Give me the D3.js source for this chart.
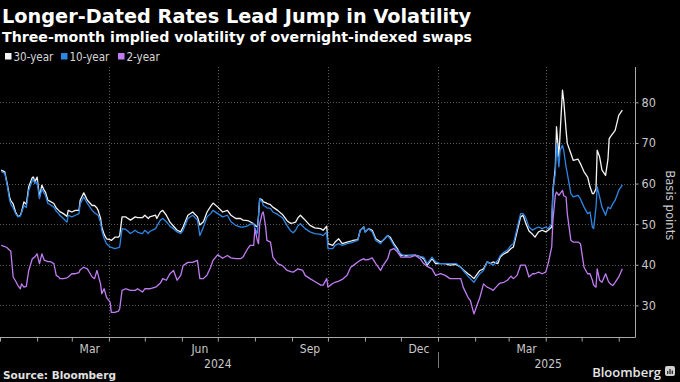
<!DOCTYPE html>
<html><head><meta charset="utf-8">
<script src="https://cdn.jsdelivr.net/npm/d3@7"></script>
<style>
html,body{margin:0;padding:0;background:#000;}
svg{display:block;}
</style></head><body>
<svg id="chart" width="680" height="382"></svg>
<script>
const dates = [
"2024-01-02","2024-01-05","2024-01-07","2024-01-09","2024-01-10","2024-01-12","2024-01-14","2024-01-16","2024-01-18","2024-01-19",
"2024-01-21","2024-01-23","2024-01-25","2024-01-28","2024-01-29","2024-01-30","2024-02-01","2024-02-03","2024-02-05","2024-02-07",
"2024-02-08","2024-02-10","2024-02-12","2024-02-15","2024-02-17","2024-02-19","2024-02-20","2024-02-23","2024-02-26","2024-02-27",
"2024-03-01","2024-03-04","2024-03-07","2024-03-08","2024-03-11","2024-03-14","2024-03-18","2024-03-20","2024-03-22","2024-03-23",
"2024-03-25","2024-03-26","2024-03-28","2024-03-30","2024-04-02","2024-04-03","2024-04-06","2024-04-09","2024-04-10","2024-04-12",
"2024-04-15","2024-04-16","2024-04-19","2024-04-23","2024-04-25","2024-04-29","2024-05-01","2024-05-04","2024-05-05","2024-05-10",
"2024-05-11","2024-05-14","2024-05-16","2024-05-19","2024-05-22","2024-05-25","2024-05-28","2024-05-31","2024-06-02","2024-06-06",
"2024-06-10","2024-06-14","2024-06-16","2024-06-19","2024-06-22","2024-06-25","2024-06-27","2024-07-01","2024-07-05","2024-07-09",
"2024-07-12","2024-07-16","2024-07-20","2024-07-22","2024-07-26","2024-07-28","2024-07-31","2024-08-01","2024-08-03","2024-08-04",
"2024-08-05","2024-08-07","2024-08-08","2024-08-10","2024-08-11","2024-08-14","2024-08-16","2024-08-20","2024-08-24","2024-08-28",
"2024-08-31","2024-09-02","2024-09-04","2024-09-06","2024-09-08","2024-09-10","2024-09-12","2024-09-16","2024-09-20","2024-09-25",
"2024-09-27","2024-09-30","2024-10-01","2024-10-05","2024-10-07","2024-10-10","2024-10-13","2024-10-17","2024-10-20","2024-10-22",
"2024-10-26","2024-10-28","2024-10-31","2024-11-01","2024-11-04","2024-11-07","2024-11-10","2024-11-14","2024-11-16","2024-11-20",
"2024-11-22","2024-11-25","2024-11-28","2024-12-01","2024-12-05","2024-12-09","2024-12-13","2024-12-17","2024-12-20","2024-12-23",
"2024-12-27","2024-12-30","2025-01-03","2025-01-07","2025-01-11","2025-01-16","2025-01-20","2025-01-22","2025-01-26","2025-01-28",
"2025-01-31","2025-02-03","2025-02-05","2025-02-08","2025-02-11","2025-02-14","2025-02-16","2025-02-20","2025-02-22","2025-02-25",
"2025-02-28","2025-03-03","2025-03-05","2025-03-08","2025-03-11","2025-03-13","2025-03-15","2025-03-18","2025-03-21","2025-03-23",
"2025-03-26","2025-03-29","2025-04-01","2025-04-03","2025-04-06","2025-04-07","2025-04-09","2025-04-10","2025-04-12","2025-04-13",
"2025-04-15","2025-04-16","2025-04-18","2025-04-19","2025-04-22","2025-04-24","2025-04-28","2025-04-30","2025-05-03","2025-05-06",
"2025-05-08","2025-05-10","2025-05-11","2025-05-13","2025-05-14","2025-05-16","2025-05-18","2025-05-21","2025-05-23","2025-05-24",
"2025-05-25","2025-05-27","2025-05-29","2025-06-01","2025-06-04"];

const rate30y = [
63.3,62.9,60,56.7,55.8,55,53,51.9,52.2,53,
55.5,54.9,59.2,61.5,61.6,60.4,61.6,56.7,59.6,58.3,
57.9,55.9,55.6,55.1,54,53.4,53.1,52.6,51.9,53.4,
53,53.4,53.4,55.9,57.7,55.9,54.6,54.6,54,53.4,
51.5,49.3,47.5,46.4,46.2,46,46.8,46.8,47.2,51.8,
51.8,51.6,51,51.8,51.6,51.6,52.2,51.4,51.8,52.2,
51.4,53,53.4,52.2,50.5,49.5,48.5,48.1,49.3,52.2,
53,51.8,49.8,50.6,53,54.4,55.2,54.2,53,53.4,
52.2,51.4,51.4,51,50.9,50.6,50.1,49.7,49.3,52,
56.3,56,55.5,55.3,55.1,54.8,54.2,53.4,52.4,50.8,
50.2,50.3,50.5,51.6,52.2,51.6,51,49.7,49.1,48.9,
48.5,49.5,45.2,44.8,45.6,46.4,45.2,45.6,45.8,46,
46.2,48.5,49.3,48.1,48.9,48.5,46.4,45.6,46,47.2,
46.8,45.2,44,42.3,42.3,42.3,42.4,42,41.5,39.9,
41.5,40.3,40.3,40.3,39.9,40.1,39.4,38.8,37.8,37.4,
36.6,37.8,38.6,39,40.7,40.3,40.7,40.3,41.9,42.7,
43.1,44,44.4,48.1,51.8,52.2,50.5,48.3,47.5,46.8,
48.1,48.5,48.1,48.5,49.3,58.3,64,74,66.6,72.3,
83,80.5,73.1,69.9,67.4,65.7,66,64.9,62.9,61.6,
59.2,57.5,57.5,58.7,68.2,66.6,63.3,62,66,71,
71.5,72.3,73.1,76.8,78.1];

const rate10y = [
63,62.5,59.6,56,55,54,52.6,51.8,52,52.8,
54.6,54.1,58.3,60.8,61,60,60.4,56.3,58.7,57.5,
57.1,55.1,54.8,54.2,53.2,52.6,52.2,51.4,50.5,52.2,
51.8,52.2,52.6,55,56.7,55.1,53.4,52.8,52.4,52.2,
50.5,48.5,46.5,45.2,44.4,44.3,44,44.2,44.4,48.9,
48.7,48.5,47.7,48.5,48,47.7,48.5,47.7,48.2,48.9,
49.5,51,51.4,50.6,49.5,48.9,48.1,47.7,48.5,51.4,
52.2,51,47.2,49.3,51.8,52.6,53.4,52.6,51.8,52.2,
50.6,49.7,49.3,49.3,49.6,50,50.1,48.9,47.7,52,
56.3,55.5,54.6,54.3,54,53.9,53,52.4,51.6,49.6,
48.3,47.9,48.5,49.6,50.1,49.5,48.9,48.1,47.7,47.5,
47.2,48.1,44,44,44.8,45.2,44.8,45.2,45.4,45.6,
46,48.5,49.3,48.1,48.9,48.1,46,45.2,46,47.2,
46.4,44.8,43.6,42.7,42,42.4,42.3,42,41.9,40.3,
41.9,40.7,40.3,40.3,40.3,40.3,39.4,38.6,37.2,36.6,
35.7,37,37.8,38.6,40.7,40.3,39.9,41.1,42.3,43.1,
43.6,44.8,45.2,48.9,52.6,52.6,51.8,49.3,48.5,48.9,
49.3,48.9,49.3,48.9,50.1,58.3,62.5,69.9,64.1,68.2,
69.4,68.2,64.1,62.5,57.5,56.7,57.1,56.2,54.2,52.6,
53,49.3,48.9,54.2,59.2,56.7,54.2,52.2,54.2,54,
53.8,55,55.9,58.3,59.7];

const rate2y = [
44.8,44.5,44.2,43.6,43.4,37,36,34.9,34.1,35.3,
34.5,34.7,38.6,41.5,41.7,41.9,42.7,40.3,42.7,41.1,
41,40.8,40.8,40.3,37.4,37,36.6,36.6,36.8,37,
37.8,37.8,38.1,38.8,39.4,39,37,36.6,38.6,37.5,
35.3,32.9,34.1,32,30.8,28.3,28.3,28.6,29.2,33.7,
34.1,34,33.7,33.7,34.1,33.3,34.1,34.1,34.1,34.5,
34.7,35.5,36.6,36.2,37.8,38.6,36.2,37.4,39.8,40.6,
40.6,41.1,36.6,36.6,37.5,39.4,41.1,42.5,41.6,42.3,
41.7,41.5,41.5,41.9,44,44.8,44.8,48.9,46,45.2,
50,52.6,53,49.3,46,45.6,41.9,40.3,39.8,38.6,
38.3,38.2,38.6,39,38.8,38.6,37.4,36.6,35.9,35,
35,36.6,34.5,35.4,35.7,36,36.4,37.4,39.4,39.8,
40.7,41.1,41.5,41.2,41.3,41.7,40.3,38.6,39.8,41.5,
43.6,44,43.2,41.9,41.9,41.9,42.3,41.5,40.3,39.6,
39,37.4,37.8,37.4,36.6,36.6,36.6,34.5,32,31.2,
27.9,30.4,32,35.3,34.5,34.1,33.7,35,35.5,35.7,
36.2,37.2,36.6,37.4,39.9,39.9,39.9,37,37.8,37.8,
38.2,37.8,38.2,40.3,44.4,51,57.1,57.9,57.1,57.5,
58.3,57,56.7,52.6,46,45.6,45.6,45.2,39.4,37.8,
37.8,36.2,35,34.5,39,36.2,35.7,37.8,36.2,35.6,
35.3,34.9,35.7,37,39];

const seriesNames = ["30-year", "10-year", "2-year"];
const seriesColors = ["#f4f4f4", "#2e86e4", "#c07cf2"];
const yTickValues = [30, 40, 50, 60, 70, 80];
const quarterLines = ["2024-04-01", "2024-07-01", "2024-10-01", "2025-01-01", "2025-04-01"];
const monthLabels = ["Mar", "Jun", "Sep", "Dec", "Mar"];
const monthLabelDates = ["2024-03-16", "2024-06-16", "2024-09-16", "2024-12-16", "2025-03-16"];
const yearLabels = ["2024", "2025"];
const yearLabelDates = ["2024-07-01", "2025-04-03"];
const yearBreak = "2025-01-01";
const titleText = "Longer-Dated Rates Lead Jump in Volatility";
const subtitleText = "Three-month implied volatility of overnight-indexed swaps";
const yAxisTitle = "Basis points";
const sourceText = "Source: Bloomberg";

const parse = d3.timeParse("%Y-%m-%d");
const svg = d3.select("#chart");
const W = 680, H = 382;
svg.append("rect").attr("width", W).attr("height", H).attr("fill", "#000");

const plot = {left: 0, right: 635.5, top: 67, bottom: 337.5};
const x = d3.scaleTime().domain([parse("2024-01-01"), parse("2025-06-15")]).range([plot.left, plot.right]);
const y = d3.scaleLinear().domain([22.1, 88.7]).range([plot.bottom, plot.top]);

const FONT = "'Liberation Sans Narrow','DejaVu Sans Condensed','Roboto',sans-serif";
const BOLD = "'DejaVu Sans','Open Sans',sans-serif";

function fitText(sel, w) {
  const n = sel.node();
  const l = n.getComputedTextLength();
  if (Math.abs(l - w) > 1) sel.attr("textLength", w).attr("lengthAdjust", "spacingAndGlyphs");
}

// Title
const t = svg.append("text").attr("x", 2).attr("y", 23).attr("fill", "#fff")
  .style("font-family", BOLD).style("font-weight", "bold").style("font-size", "19.5px").text(titleText);
fitText(t, 469);
const st = svg.append("text").attr("x", 2).attr("y", 42).attr("fill", "#fff")
  .style("font-family", BOLD).style("font-weight", "bold").style("font-size", "14.5px").text(subtitleText);
fitText(st, 470);

// Legend
const legendX = [5, 61, 118];
seriesNames.forEach((name, i) => {
  svg.append("rect").attr("x", legendX[i]).attr("y", 53).attr("width", 6.5).attr("height", 6.5).attr("fill", seriesColors[i]);
  svg.append("text").attr("x", legendX[i] + 8.5).attr("y", 60.5).attr("fill", "#d8d8d8")
    .style("font-family", FONT).style("font-size", "11.5px").text(name);
});

// Grid
const grid = svg.append("g");
yTickValues.forEach(v => {
  grid.append("line").attr("x1", plot.left).attr("x2", plot.right).attr("y1", Math.round(y(v)) + 0.5).attr("y2", Math.round(y(v)) + 0.5)
    .attr("stroke", "#5a5a5a").attr("stroke-width", 1).attr("stroke-dasharray", "1,2");
});
quarterLines.forEach(ds => {
  const xx = Math.round(x(parse(ds))) + 0.5;
  grid.append("line").attr("x1", xx).attr("x2", xx).attr("y1", plot.top).attr("y2", plot.bottom)
    .attr("stroke", "#5a5a5a").attr("stroke-width", 1).attr("stroke-dasharray", "1,2");
});

// Lines
const seriesValues = [rate30y, rate10y, rate2y];
const line = d3.line().x(d => x(d[0])).y(d => y(d[1])).curve(d3.curveLinear);
seriesValues.forEach((vals, i) => {
  const data = dates.map((ds, k) => [parse(ds), vals[k]]);
  svg.append("path").datum(data).attr("d", line).attr("fill", "none")
    .attr("stroke", seriesColors[i]).attr("stroke-width", 1.3).attr("stroke-linejoin", "round");
});

// X axis
const xAxisG = svg.append("g").attr("transform", `translate(0,${plot.bottom})`);
xAxisG.call(d3.axisBottom(x).ticks(d3.timeMonth.every(1)).tickSize(4).tickFormat(""));
xAxisG.select(".domain").attr("stroke", "#a8a8a8").attr("d", `M${plot.left},0H${plot.right}`);
xAxisG.selectAll(".tick line").attr("stroke", "#a8a8a8");
monthLabels.forEach((m, i) => {
  svg.append("text").attr("x", x(parse(monthLabelDates[i]))).attr("y", 353).attr("text-anchor", "middle")
    .attr("fill", "#c8c8c8").style("font-family", FONT).style("font-size", "12px").text(m);
});
yearLabels.forEach((yl, i) => {
  svg.append("text").attr("x", x(parse(yearLabelDates[i]))).attr("y", 367.5).attr("text-anchor", "middle")
    .attr("fill", "#c8c8c8").style("font-family", FONT).style("font-size", "12px").text(yl);
});
const xb = Math.round(x(parse(yearBreak))) + 0.5;
svg.append("line").attr("x1", xb).attr("x2", xb).attr("y1", 352).attr("y2", 368).attr("stroke", "#777").attr("stroke-width", 1);

// Y axis right
const yAxisG = svg.append("g").attr("transform", `translate(${plot.right},0)`);
yAxisG.call(d3.axisRight(y).tickValues(yTickValues).tickSize(3).tickPadding(3));
yAxisG.select(".domain").attr("stroke", "#a8a8a8").attr("d", `M0,${plot.top}V${plot.bottom}`);
yAxisG.selectAll(".tick line").attr("stroke", "#a8a8a8");
yAxisG.selectAll(".tick text").attr("fill", "#c8c8c8").style("font-family", FONT).style("font-size", "12.5px");
svg.append("text").attr("transform", `translate(666,${(plot.top + plot.bottom) / 2 + 3}) rotate(90)`)
  .attr("text-anchor", "middle").attr("fill", "#c8c8c8").style("font-family", FONT).style("font-size", "13px").text(yAxisTitle);

// Footer
svg.append("text").attr("x", 3).attr("y", 379).attr("fill", "#e0e0e0")
  .style("font-family", BOLD).style("font-weight", "bold").style("font-size", "10.5px").text(sourceText);
svg.append("text").attr("x", 661).attr("y", 377).attr("text-anchor", "end").attr("fill", "#e6e6e6")
  .style("font-family", "'Open Sans','DejaVu Sans',sans-serif").style("font-weight", "600").style("font-size", "13px").text("Bloomberg");
const logo = svg.append("g").attr("transform", "translate(665,366)");
logo.append("rect").attr("width", 10).attr("height", 10).attr("rx", 2).attr("fill", "#d0d0d0");
[[2, 5, 1.4], [4.3, 3, 1.4], [6.6, 4.5, 1.4]].forEach(b => {
  logo.append("rect").attr("x", b[0]).attr("y", b[1]).attr("width", b[2]).attr("height", 8 - b[1]).attr("fill", "#333");
});
</script>
</body></html>
